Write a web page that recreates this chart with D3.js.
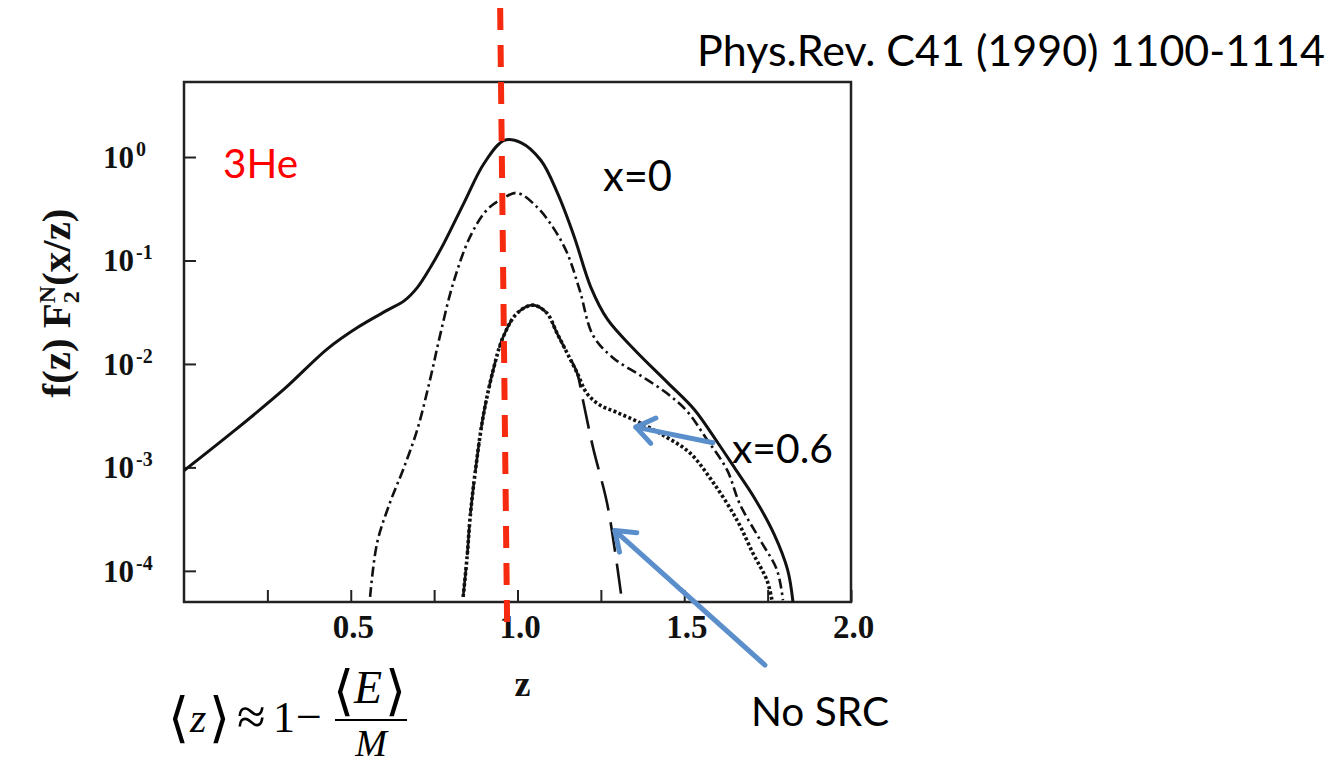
<!DOCTYPE html>
<html>
<head>
<meta charset="utf-8">
<script src="https://cdn.jsdelivr.net/npm/d3@7"></script>
<style>
  body { margin: 0; background: #fff; }
  svg { display: block; }
</style>
</head>
<body>
<svg id="chart"></svg>
<script>
// values: z and f(z) F2N(x/z)
// solid curve (x=0, full)
const zSolid = [0, 0.15, 0.30, 0.43, 0.52, 0.61, 0.66, 0.70, 0.74, 0.78, 0.84, 0.90, 0.96, 1.01, 1.07, 1.12, 1.17, 1.22, 1.27, 1.35, 1.45, 1.53, 1.60, 1.65, 1.71, 1.77, 1.81, 1.826];
const fSolid = [9.3e-4, 2.25e-3, 5.7e-3, 0.0140, 0.0225, 0.0331, 0.0407, 0.055, 0.087, 0.148, 0.363, 0.87, 1.45, 1.38, 0.93, 0.447, 0.17, 0.055, 0.0269, 0.0138, 6.6e-3, 3.63e-3, 1.74e-3, 1.0e-3, 5.1e-4, 2.24e-4, 1.02e-4, 5.0e-5];

// dash-dot curve
const zDashDot = [0.558, 0.579, 0.618, 0.657, 0.699, 0.738, 0.768, 0.807, 0.858, 0.909, 0.957, 0.999, 1.058, 1.106, 1.148, 1.187, 1.226, 1.286, 1.367, 1.448, 1.508, 1.568, 1.628, 1.667, 1.727, 1.778, 1.796];
const fDashDot = [5.6e-5, 1.86e-4, 4.6e-4, 9.5e-4, 2.29e-3, 7.1e-3, 0.019, 0.060, 0.17, 0.31, 0.40, 0.45, 0.33, 0.21, 0.12, 0.051, 0.019, 0.0115, 7.8e-3, 5.2e-3, 3.5e-3, 1.86e-3, 9.5e-4, 4.4e-4, 2.0e-4, 1.02e-4, 5.2e-5];

// dotted curve (x=0.6)
const zDotted = [0.837, 0.849, 0.858, 0.873, 0.897, 0.927, 0.957, 0.999, 1.046, 1.088, 1.118, 1.148, 1.178, 1.208, 1.247, 1.298, 1.367, 1.448, 1.517, 1.586, 1.658, 1.706, 1.748, 1.763];
const fDotted = [5.6e-5, 1.38e-4, 3.3e-4, 8.9e-4, 3.1e-3, 8.7e-3, 0.0182, 0.031, 0.037, 0.031, 0.020, 0.0129, 8.3e-3, 5.2e-3, 4.0e-3, 3.4e-3, 2.7e-3, 1.95e-3, 1.38e-3, 7.2e-4, 3.1e-4, 1.48e-4, 8.1e-5, 5.2e-5];

// long-dash curve (no SRC)
const zNoSRC = [0.837, 0.849, 0.858, 0.873, 0.897, 0.927, 0.957, 0.999, 1.046, 1.088, 1.118, 1.148, 1.178, 1.196, 1.226, 1.268, 1.292, 1.313];
const fNoSRC = [5.6e-5, 1.38e-4, 3.3e-4, 8.9e-4, 3.1e-3, 8.7e-3, 0.0182, 0.031, 0.037, 0.031, 0.020, 0.0129, 8.3e-3, 4.5e-3, 1.58e-3, 4.6e-4, 1.58e-4, 5.2e-5];

const xTickValues = [0.25, 0.5, 0.75, 1.0, 1.25, 1.5, 1.75, 2.0];
const xTickLabels = [0.5, 1.0, 1.5, 2.0];
const yTickValues = [1, 0.1, 0.01, 0.001, 0.0001];
const yTickExps = ["0", "-1", "-2", "-3", "-4"];

// annotation anchors (z, value)
const zPeakLine = [0.948, 0.969];
const arrowX06 = [[1.586, 1.73e-3], [1.355, 2.45e-3]];
const arrowNoSRC = [[1.742, 1.23e-5], [1.292, 2.45e-4]];

const width = 1342, height = 767;
const margin = {top: 82, right: 491, bottom: 165, left: 184};
const innerW = width - margin.left - margin.right;
const innerH = height - margin.top - margin.bottom;

const svg = d3.select("#chart")
    .attr("width", width)
    .attr("height", height);

const chart = svg.append("g")
    .attr("transform", `translate(${margin.left},${margin.top})`);

const xScale = d3.scaleLinear()
    .domain([0, 2])
    .range([0, innerW]);

const yScale = d3.scaleLog()
    .domain([5.0e-5, 5.31])
    .range([innerH, 0]);

const serif = "'Liberation Serif', 'Times New Roman', serif";
const sans = "Lato, 'Open Sans', sans-serif";

// text fitting helper, sizes text to the width seen in the slide
function fit(sel, w) {
    const len = sel.node().getComputedTextLength();
    const fs = parseFloat(sel.attr("font-size"));
    sel.attr("font-size", (fs * w / len).toFixed(2));
    return sel;
}

// x axis, ticks pointing inward
const xAxis = d3.axisBottom(xScale)
    .tickValues(xTickValues)
    .tickSizeInner(-12)
    .tickSizeOuter(0)
    .tickFormat(d => xTickLabels.includes(d) ? d3.format(".1f")(d) : "");

const xAxisG = chart.append("g")
    .attr("transform", `translate(0,${innerH})`)
    .call(xAxis);
xAxisG.select(".domain").remove();
xAxisG.selectAll("line").attr("stroke", "#222").attr("stroke-width", 2);
xAxisG.selectAll("text")
    .attr("x", 2)
    .attr("y", 36)
    .attr("dy", null)
    .attr("font-family", serif)
    .attr("font-weight", "bold")
    .attr("font-size", 33)
    .attr("fill", "#111");

// y axis, log decades
const yAxis = d3.axisLeft(yScale)
    .tickValues(yTickValues)
    .tickSizeInner(-12)
    .tickSizeOuter(0)
    .tickFormat("");

const yAxisG = chart.append("g").call(yAxis);
yAxisG.select(".domain").remove();
yAxisG.selectAll("line").attr("stroke", "#222").attr("stroke-width", 2);
yAxisG.selectAll(".tick text")
    .attr("x", -81)
    .attr("dy", "0.33em")
    .attr("text-anchor", "start")
    .attr("font-family", serif)
    .attr("font-weight", "bold")
    .attr("font-size", 31)
    .attr("fill", "#111")
    .each(function(d, i) {
        const t = d3.select(this);
        t.text(null);
        t.append("tspan").text("10");
        t.append("tspan")
            .attr("dx", 2)
            .attr("dy", -12)
            .attr("font-size", 20)
            .text(yTickExps[i]);
    });

// frame
chart.append("rect")
    .attr("width", innerW)
    .attr("height", innerH)
    .attr("fill", "none")
    .attr("stroke", "#222")
    .attr("stroke-width", 2.5);

// curves
const line = d3.line()
    .x(d => xScale(d[0]))
    .y(d => yScale(d[1]))
    .curve(d3.curveCatmullRom.alpha(0.5));

const curves = [
    {z: zNoSRC, f: fNoSRC, w: 2.6, dash: "30,12"},
    {z: zDotted, f: fDotted, w: 3.6, dash: "3,2.4"},
    {z: zDashDot, f: fDashDot, w: 2.6, dash: "10,4,2.5,4"},
    {z: zSolid, f: fSolid, w: 3, dash: null}
];

chart.selectAll(".curve")
    .data(curves)
    .join("path")
    .attr("class", "curve")
    .attr("d", c => line(d3.zip(c.z, c.f)))
    .attr("fill", "none")
    .attr("stroke", "#111")
    .attr("stroke-width", c => c.w)
    .attr("stroke-dasharray", c => c.dash);

// axis titles
chart.append("text")
    .attr("x", xScale(1.015))
    .attr("y", innerH + 94)
    .attr("text-anchor", "middle")
    .attr("font-family", serif)
    .attr("font-weight", "bold")
    .attr("font-size", 36)
    .attr("fill", "#111")
    .text("z");

const yTitle = svg.append("text")
    .attr("transform", "translate(70,303) rotate(-90)")
    .attr("text-anchor", "middle")
    .attr("font-family", serif)
    .attr("font-weight", "bold")
    .attr("font-size", 36)
    .attr("fill", "#111");
yTitle.append("tspan").text("f(z) F");
yTitle.append("tspan").attr("dy", 9).attr("font-size", 24).text("2");
yTitle.append("tspan").attr("dx", -12).attr("dy", -24).attr("font-size", 24).text("N");
yTitle.append("tspan").attr("dy", 15).text("(x/z)");
fit(yTitle, 205);

// red dashed line at the peak
svg.append("line")
    .attr("x1", margin.left + xScale(zPeakLine[0]))
    .attr("y1", 8)
    .attr("x2", margin.left + xScale(zPeakLine[1]))
    .attr("y2", 628)
    .attr("stroke", "#f52a0e")
    .attr("stroke-width", 6)
    .attr("stroke-dasharray", "22,15");

// blue arrows
function arrow(pts) {
    const [t0, t1] = pts;
    const x0 = xScale(t0[0]), y0 = yScale(t0[1]);
    const x1 = xScale(t1[0]), y1 = yScale(t1[1]);
    const a = Math.atan2(y1 - y0, x1 - x0);
    const len = 22, spread = Math.PI / 5;
    const g = chart.append("g")
        .attr("fill", "none")
        .attr("stroke", "#5b8fcc")
        .attr("stroke-width", 5)
        .attr("stroke-linecap", "round")
        .attr("stroke-linejoin", "round");
    g.append("line").attr("x1", x0).attr("y1", y0).attr("x2", x1).attr("y2", y1);
    g.append("polyline").attr("points", [
        [x1 - len * Math.cos(a - spread), y1 - len * Math.sin(a - spread)],
        [x1, y1],
        [x1 - len * Math.cos(a + spread), y1 - len * Math.sin(a + spread)]
    ].map(p => p.join(",")).join(" "));
}
arrow(arrowX06);
arrow(arrowNoSRC);

// annotation text
const notes = [
    {t: "3He", x: 223, y: 178, w: 75, c: "#ff0000"},
    {t: "x=0", x: 603, y: 191, w: 69, c: "#000"},
    {t: "x=0.6", x: 732, y: 463, w: 101, c: "#000"},
    {t: "No SRC", x: 751, y: 726, w: 138, c: "#000"},
    {t: "Phys.Rev. C41 (1990) 1100-1114", x: 697, y: 66, w: 628, c: "#000"}
];
notes.forEach(n => {
    const s = svg.append("text")
        .attr("x", n.x)
        .attr("y", n.y)
        .attr("font-family", sans)
        .attr("font-size", 42)
        .attr("fill", n.c)
        .text(n.t);
    fit(s, n.w);
});

// formula <z> ~ 1 - <E>/M
const fm = svg.append("g")
    .attr("font-family", serif)
    .attr("font-size", 42)
    .attr("fill", "#000");
const br = "'DejaVu Sans', sans-serif";
fm.append("text").attr("x", 168).attr("y", 736).attr("font-family", br).attr("font-size", 54).text("\u27E8");
fm.append("text").attr("x", 190).attr("y", 732).attr("font-style", "italic").text("z");
fm.append("text").attr("x", 209).attr("y", 736).attr("font-family", br).attr("font-size", 54).text("\u27E9");
fm.append("text").attr("x", 237).attr("y", 734).attr("font-size", 52).text("\u2248");
fm.append("text").attr("x", 273).attr("y", 732).attr("font-size", 44).text("1");
fm.append("text").attr("x", 296).attr("y", 732).attr("font-size", 46).text("\u2212");
fm.append("line").attr("x1", 335).attr("x2", 407).attr("y1", 720).attr("y2", 720)
    .attr("stroke", "#000").attr("stroke-width", 2);
fm.append("text").attr("x", 333).attr("y", 709).attr("font-family", br).attr("font-size", 54).text("\u27E8");
fm.append("text").attr("x", 354).attr("y", 703).attr("font-style", "italic").attr("font-size", 46).text("E");
fm.append("text").attr("x", 385).attr("y", 709).attr("font-family", br).attr("font-size", 54).text("\u27E9");
fm.append("text").attr("x", 371).attr("y", 756).attr("text-anchor", "middle").attr("font-style", "italic").attr("font-size", 38).text("M");
</script>
</body>
</html>
